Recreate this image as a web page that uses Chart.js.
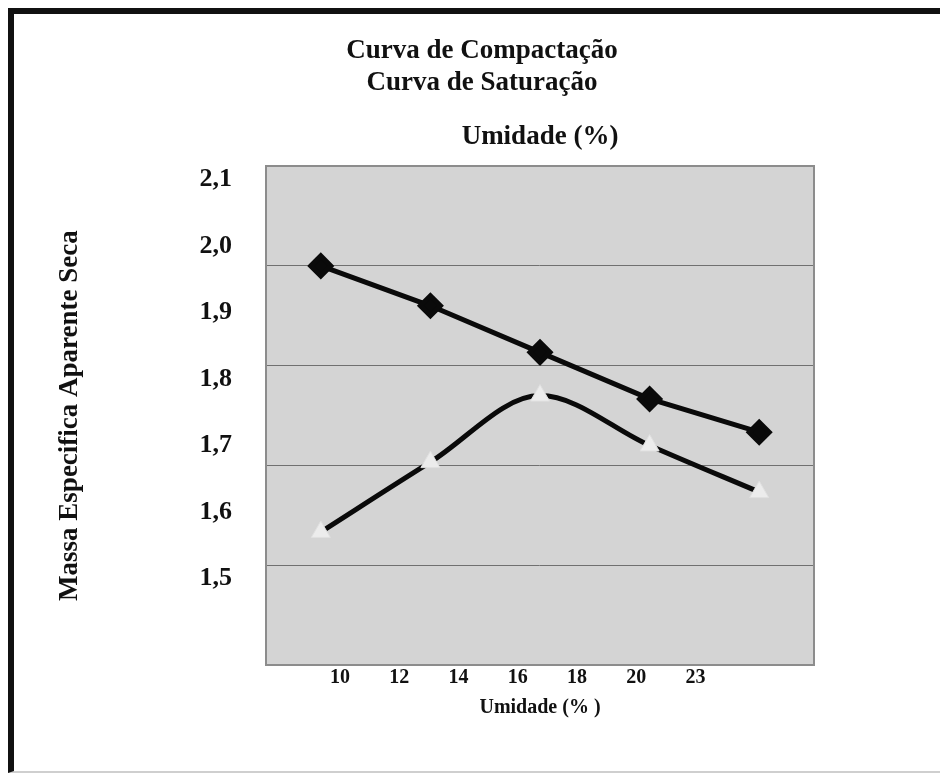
<!DOCTYPE html>
<html lang="pt">
<head>
<meta charset="utf-8">
<title>Curva de Compactação</title>
<script src="https://cdn.jsdelivr.net/npm/chart.js"></script>
<style>
  html, body { margin: 0; padding: 0; background: #fff; }
  #moldura {
    position: absolute; left: 8px; top: 8px; right: 0; bottom: 0;
    border-top: 6px solid #111; border-left: 6px solid #111;
    border-bottom: 2px solid #cfcfcf;
  }
  #area { position: absolute; left: 0; top: 0; width: 940px; height: 773px; }
</style>
</head>
<body>
<div id="moldura"></div>
<div id="area"><canvas id="Compactacao"></canvas></div>
<script>
// pontos do ensaio e valores
var pontos = ["1", "2", "3", "4", "5"];
var compactacao = [1.97, 1.91, 1.84, 1.77, 1.72];
var saturacao = [1.57, 1.675, 1.775, 1.70, 1.63];

// rótulos dos eixos
var umidadeLabels = ["10", "12", "14", "16", "18", "20", "23"];
var massaTicks = [1.5, 1.6, 1.7, 1.8, 1.9, 2.0, 2.1];
var gradeY = [1.52, 1.67, 1.82, 1.97];

document.addEventListener("DOMContentLoaded", function () {
    var ctx = document.getElementById("Compactacao").getContext("2d");
    Chart.defaults.font.family = "'Liberation Serif', 'Times New Roman', serif";
    Chart.defaults.color = "#111";

    var bordaPlot = { display: true, color: "#8c8c8c", width: 2 };

    // fundo cinza da área de plotagem
    var fundoPlot = {
        id: "fundoPlot",
        beforeDraw: function (chart) {
            var a = chart.chartArea;
            var c = chart.ctx;
            c.save();
            c.fillStyle = "#d4d4d4";
            c.fillRect(a.left, a.top, a.right - a.left, a.bottom - a.top);
            c.restore();
        },
    };

    new Chart(ctx, {
        type: "line",
        data: {
            labels: pontos,
            datasets: [
                {
                    label: "Curva de Compactação",
                    data: compactacao,
                    borderColor: "#0a0a0a",
                    borderWidth: 5,
                    tension: 0,
                    pointStyle: "rectRot",
                    pointRadius: 10,
                    pointBackgroundColor: "#0a0a0a",
                    pointBorderColor: "#0a0a0a",
                    xAxisID: "x",
                    yAxisID: "y",
                },
                {
                    label: "Curva de Saturação",
                    data: saturacao,
                    borderColor: "#0a0a0a",
                    borderWidth: 5,
                    cubicInterpolationMode: "monotone",
                    pointStyle: "triangle",
                    pointRadius: 11,
                    pointBackgroundColor: "#ececec",
                    pointBorderColor: "#e0e0e0",
                    pointBorderWidth: 1,
                    xAxisID: "x",
                    yAxisID: "y",
                },
            ],
        },
        options: {
            responsive: true,
            maintainAspectRatio: false,
            animation: false,
            layout: { padding: { left: 24, right: 0, top: 0, bottom: 0 } },
            plugins: {
                legend: { display: false },
                tooltip: { enabled: false },
                title: {
                    display: true,
                    text: ["Curva de Compactação", "Curva de Saturação"],
                    font: { size: 27, weight: "bold", lineHeight: 1.15 },
                    color: "#111",
                    padding: { top: 36, bottom: 0 },
                },
            },
            scales: {
                x: { type: "category", display: false, offset: true },
                xTop: {
                    type: "linear",
                    position: "top",
                    min: 0,
                    max: 1,
                    ticks: { display: false },
                    grid: { display: false, drawTicks: false },
                    border: bordaPlot,
                    title: {
                        display: true,
                        text: "Umidade (%)",
                        font: { size: 27, weight: "bold" },
                        color: "#111",
                        padding: { top: 23, bottom: 0 },
                    },
                    afterFit: function (s) { s.height = 68; },
                },
                xTicks: {
                    type: "linear",
                    position: "bottom",
                    min: -1.25,
                    max: 8,
                    afterBuildTicks: function (s) {
                        s.ticks = umidadeLabels.map(function (l, i) { return { value: i }; });
                    },
                    ticks: {
                        autoSkip: false,
                        maxRotation: 0,
                        padding: 1,
                        font: { size: 20, weight: "bold" },
                        color: "#111",
                        callback: function (v, i) { return umidadeLabels[i]; },
                    },
                    grid: { display: false, drawTicks: false },
                    border: bordaPlot,
                    title: {
                        display: true,
                        text: "Umidade (% )",
                        font: { size: 20, weight: "bold" },
                        color: "#111",
                        padding: { top: 0, bottom: 53 },
                    },
                    afterFit: function (s) { s.height = 108; },
                },
                y: {
                    type: "linear",
                    position: "left",
                    min: 1.37,
                    max: 2.12,
                    afterBuildTicks: function (s) {
                        s.ticks = massaTicks.map(function (v) { return { value: v }; });
                    },
                    ticks: {
                        padding: 34,
                        font: { size: 26, weight: "bold" },
                        color: "#111",
                        callback: function (v) { return v.toFixed(1).replace(".", ","); },
                    },
                    grid: { display: false, drawTicks: false },
                    border: bordaPlot,
                    title: {
                        display: true,
                        text: "Massa Especifica Aparente Seca",
                        font: { size: 27, weight: "bold" },
                        color: "#111",
                        padding: { top: 30, bottom: 0 },
                    },
                    afterFit: function (s) { s.width = 242; },
                },
                yGrid: {
                    type: "linear",
                    position: "right",
                    min: 1.37,
                    max: 2.12,
                    afterBuildTicks: function (s) {
                        s.ticks = gradeY.map(function (v) { return { value: v }; });
                    },
                    ticks: { display: false },
                    grid: { color: "#707070", lineWidth: 1, drawTicks: false },
                    border: bordaPlot,
                    afterFit: function (s) { s.width = 126; },
                },
            },
        },
        plugins: [fundoPlot],
    });
});
</script>
</body>
</html>
